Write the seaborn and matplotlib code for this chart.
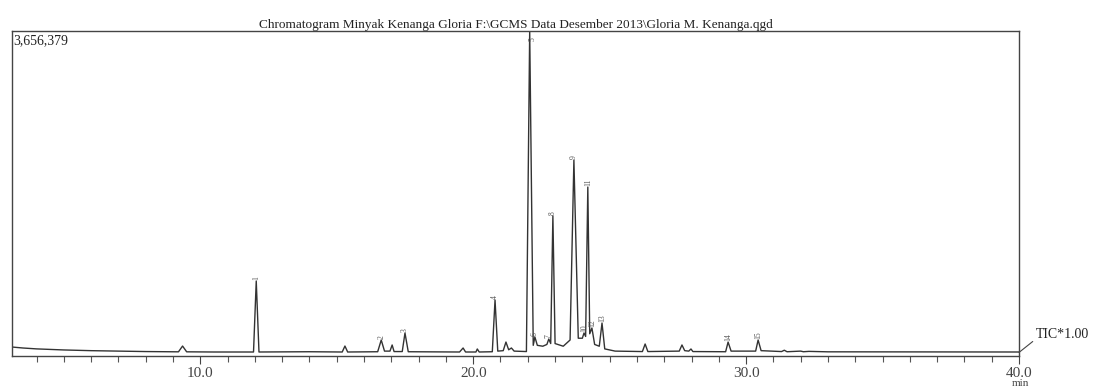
import numpy as np
import pandas as pd
import seaborn as sns
import matplotlib.pyplot as plt

# TIC trace (time in min, intensity in counts)
trace_min = [3.1, 3.5, 4.0, 5.0, 6.0, 7.0, 8.0, 9.2, 9.35, 9.5, 10.5, 11.95, 12.05, 12.15,
             14.0, 15.2, 15.3, 15.4, 16.5, 16.63, 16.75, 16.95, 17.03, 17.1, 17.4, 17.5, 17.62,
             19.5, 19.63, 19.72, 20.1, 20.15, 20.22, 20.7, 20.8, 20.9, 21.1, 21.2, 21.3, 21.4, 21.5,
             21.95, 22.07, 22.2, 22.26, 22.35, 22.55, 22.7, 22.77, 22.84, 22.92, 23.0, 23.3, 23.55,
             23.69, 23.85, 24.0, 24.06, 24.12, 24.2, 24.27, 24.35, 24.45, 24.62, 24.72, 24.82, 25.2,
             26.2, 26.3, 26.4, 27.55, 27.65, 27.75, 27.9, 27.98, 28.05, 29.25, 29.34, 29.45, 30.35,
             30.44, 30.55, 31.3, 31.4, 31.5, 32.0, 32.1, 32.3, 33.0, 40.0]
trace_kcounts = [101, 90, 80, 68, 60, 55, 50, 47, 112, 47, 45, 45, 844, 45,
                 48, 45, 112, 45, 48, 180, 55, 55, 124, 50, 50, 259, 48,
                 45, 90, 45, 45, 79, 45, 48, 630, 55, 60, 157, 70, 90, 55,
                 50, 3656, 120, 214, 120, 110, 130, 191, 140, 1575, 140, 110, 180,
                 2205, 200, 200, 259, 220, 1901, 250, 315, 130, 110, 371, 80, 55,
                 50, 135, 50, 55, 124, 60, 55, 79, 50, 48, 157, 55, 55,
                 180, 60, 50, 65, 48, 55, 48, 52, 47, 45]

# labelled peaks
peak_no = [str(i) for i in range(1, 16)]
peak_rt = [12.05, 16.63, 17.5, 20.8, 22.07, 22.26, 22.77, 22.92, 23.69, 24.06, 24.2, 24.35, 24.72, 29.34, 30.44]
peak_kcounts = [844, 180, 259, 630, 3656, 214, 191, 1575, 2205, 259, 1901, 315, 371, 157, 180]

y_max = 3656379
title = "Chromatogram Minyak Kenanga Gloria F:\\GCMS Data Desember 2013\\Gloria M. Kenanga.qgd"

sns.set_theme(style="white")
plt.rcParams['font.family'] = ['Liberation Serif', 'DejaVu Serif']

df = pd.DataFrame({'min': trace_min, 'tic': np.array(trace_kcounts) * 1000.0})

fig = plt.figure(figsize=(10.96, 3.89), dpi=100)
ax = fig.add_axes([12 / 1096, 1 - 356 / 389, 1007 / 1096, 325 / 389])

sns.lineplot(data=df, x='min', y='tic', ax=ax, color='#333333', linewidth=1.0, sort=False)

for lab, rt, h in zip(peak_no, peak_rt, peak_kcounts):
    yy = min(h * 1000.0, y_max)
    ax.annotate(lab, (rt, yy), xytext=(2 if lab == '5' else 0, 1 if lab != '5' else -7),
                textcoords='offset points', rotation=90, ha='center', va='bottom',
                fontsize=5.5, color='#555555')

ax.set_xlim(3.1, 40.0)
ax.set_ylim(0, y_max)
ax.set_xticks([10, 20, 30, 40])
ax.set_xticklabels(['10.0', '20.0', '30.0', '40.0'])
ax.set_xticks(np.arange(4, 40), minor=True)
ax.set_yticks([])
ax.tick_params(axis='x', which='major', direction='out', length=6, width=0.8,
               color='#444444', labelsize=11, labelcolor='#444444', pad=2, bottom=True)
ax.tick_params(axis='x', which='minor', direction='out', length=4, width=0.8,
               color='#555555', bottom=True)
ax.set_xlabel('')
ax.set_ylabel('')
for s in ax.spines.values():
    s.set_color('#444444')
    s.set_linewidth(1.0)

ax.set_title(title, fontsize=9.5, pad=2, color='#222222')
ax.text(0.001, 0.99, '3,656,379', transform=ax.transAxes, ha='left', va='top',
        fontsize=10, color='#222222')

# TIC marker on the right
ax.annotate('TIC*1.00', xy=(40.0, 40000), xycoords='data',
            xytext=(1036 / 1096, 1 - 335 / 389), textcoords='figure fraction',
            ha='left', va='center', fontsize=10, color='#222222',
            arrowprops=dict(arrowstyle='-', color='#444444', lw=0.8, shrinkA=0, shrinkB=0,
                            relpos=(0, 0.2)),
            annotation_clip=False)
fig.text(1020 / 1096, 1 - 379 / 389, 'min', ha='center', va='top', fontsize=8, color='#444444')

fig.savefig('out.png', dpi=100)
